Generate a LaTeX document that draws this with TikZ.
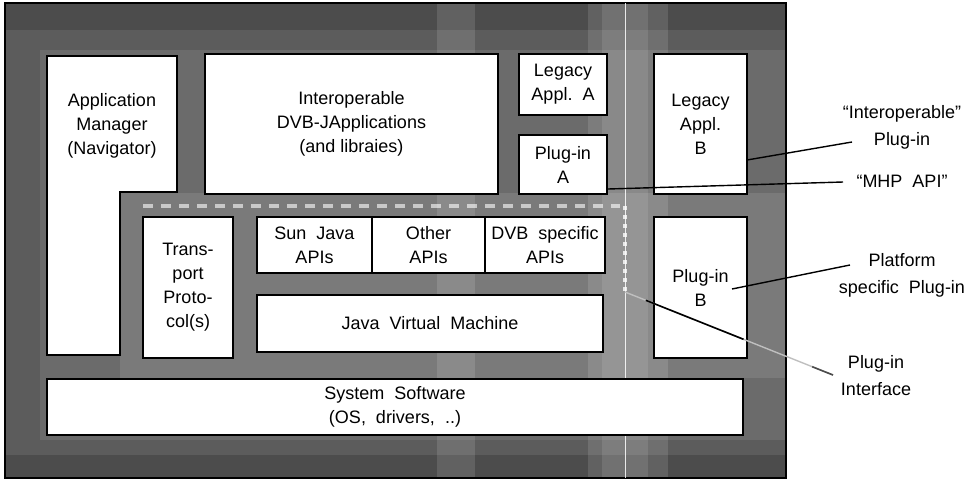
\documentclass[tikz,border=0pt]{standalone}
\usepackage{fontspec}
\setmainfont{Liberation Sans}
\usetikzlibrary{calc}
\begin{document}
\begin{tikzpicture}[x=1pt,y=-1pt,
  box/.style={draw=black, line width=1.3pt, fill=white, inner sep=0pt,
    font=\fontsize{18}{24}\selectfont, align=center},
  lbl/.style={inner sep=0pt, font=\fontsize{18}{27}\selectfont, align=center},
  leader/.style={draw=black, line width=1.4pt}]
\useasboundingbox (0,0) rectangle (977,483);
% background of the platform frame
\fill[black!70] (5,3) rectangle (786,478);
\fill[black!64] (5,30) rectangle (786,455);
\fill[black!58] (40,50) rectangle (786,440);
\fill[black!52] (120,193) rectangle (786,378);
\fill[white, opacity=0.12] (437,3) rectangle (475,478);
\fill[white, opacity=0.12] (588,3) rectangle (668,478);
\fill[white, opacity=0.10] (602,3) rectangle (648,478);
\draw[line width=1.6pt] (5,3) rectangle (786,478);
% plug-in interface white line
\draw[white, line width=1pt, opacity=0.85] (625,3) -- (625,478);
% application manager (L-shaped)
\draw[line width=1.3pt, fill=white] (47,56) -- (177,56) -- (177,192) -- (120,192) -- (120,355) -- (47,355) -- cycle;
\node[lbl, font=\fontsize{18}{24}\selectfont] (appmgr) at (112,126) {Application\\Manager\\(Navigator)};
% boxes
\node[box, minimum width=293pt, minimum height=140pt] (interop) at (351.5,124) {Interoperable\\DVB-JApplications\\(and libraies)};
\node[box, minimum width=88pt, minimum height=61pt] (legA) at (563,84.5) {Legacy\\Appl.\ \ A};
\node[box, minimum width=88pt, minimum height=59pt] (plugA) at (563,164.5) {Plug-in\\A};
\node[box, minimum width=93pt, minimum height=140pt] (legB) at (700.5,124) {Legacy\\Appl.\\B};
\node[box, minimum width=93pt, minimum height=141pt] (plugB) at (700.5,287.5) {Plug-in\\B};
\node[box, minimum width=90pt, minimum height=141pt] (transport) at (188,287.5) {Trans-\\port\\Proto-\\col(s)};
\node[box, minimum width=115pt, minimum height=56pt] (sunjava) at (314.5,245) {Sun\ \ Java\\APIs};
\node[box, minimum width=113pt, minimum height=56pt] (other) at (428.5,245) {Other\\APIs};
\node[box, minimum width=120pt, minimum height=56pt] (dvb) at (545,245) {DVB\ \ specific\\APIs};
\node[box, minimum width=346pt, minimum height=57pt] (jvm) at (430,323.5) {Java\ \ Virtual\ \ Machine};
\node[box, minimum width=696pt, minimum height=56pt] (sys) at (395,407) {System\ \ Software\\(OS,\ \ drivers,\ \ ..)};
% MHP API dashed boundary
\draw[white, line width=4pt, opacity=0.6, dash pattern=on 10pt off 8pt] (143,206) -- (620,206);
\draw[white, line width=4pt, opacity=0.8, dash pattern=on 4pt off 5pt] (625,206) -- (625,292);
% labels
\node[lbl] (ipl) at (902,127.5) {“Interoperable”\\Plug-in};
\node[lbl] (mhp) at (902,181) {“MHP\ \ API”};
\node[lbl] (psp) at (902,275) {Platform\\specific\ \ Plug-in};
\node[lbl] (pif) at (876,376) {Plug-in\\Interface};
% leader lines
\coordinate (ipS) at (747,160);
\coordinate (ipE) at (852,142);
\draw[leader] (ipS) -- (ipE);
\coordinate (mhpS) at (608,189);
\coordinate (mhpE) at (843,182);
\draw[leader] (mhpS) -- (mhpE);
\coordinate (pspS) at (732,289);
\coordinate (pspE) at (850,265);
\draw[leader] (pspS) -- (pspE);
\coordinate (pifS) at (625,292);
\coordinate (pifE) at (833,375);
\draw[line width=1.4pt, black!25] (pifS) -- (pifE);
\draw[line width=1.6pt, black] ($(pifS)!0.1!(pifE)$) -- ($(pifS)!0.57!(pifE)$);
\draw[line width=1.6pt, black!70] ($(pifS)!0.9!(pifE)$) -- (pifE);
\end{tikzpicture}
\end{document}
